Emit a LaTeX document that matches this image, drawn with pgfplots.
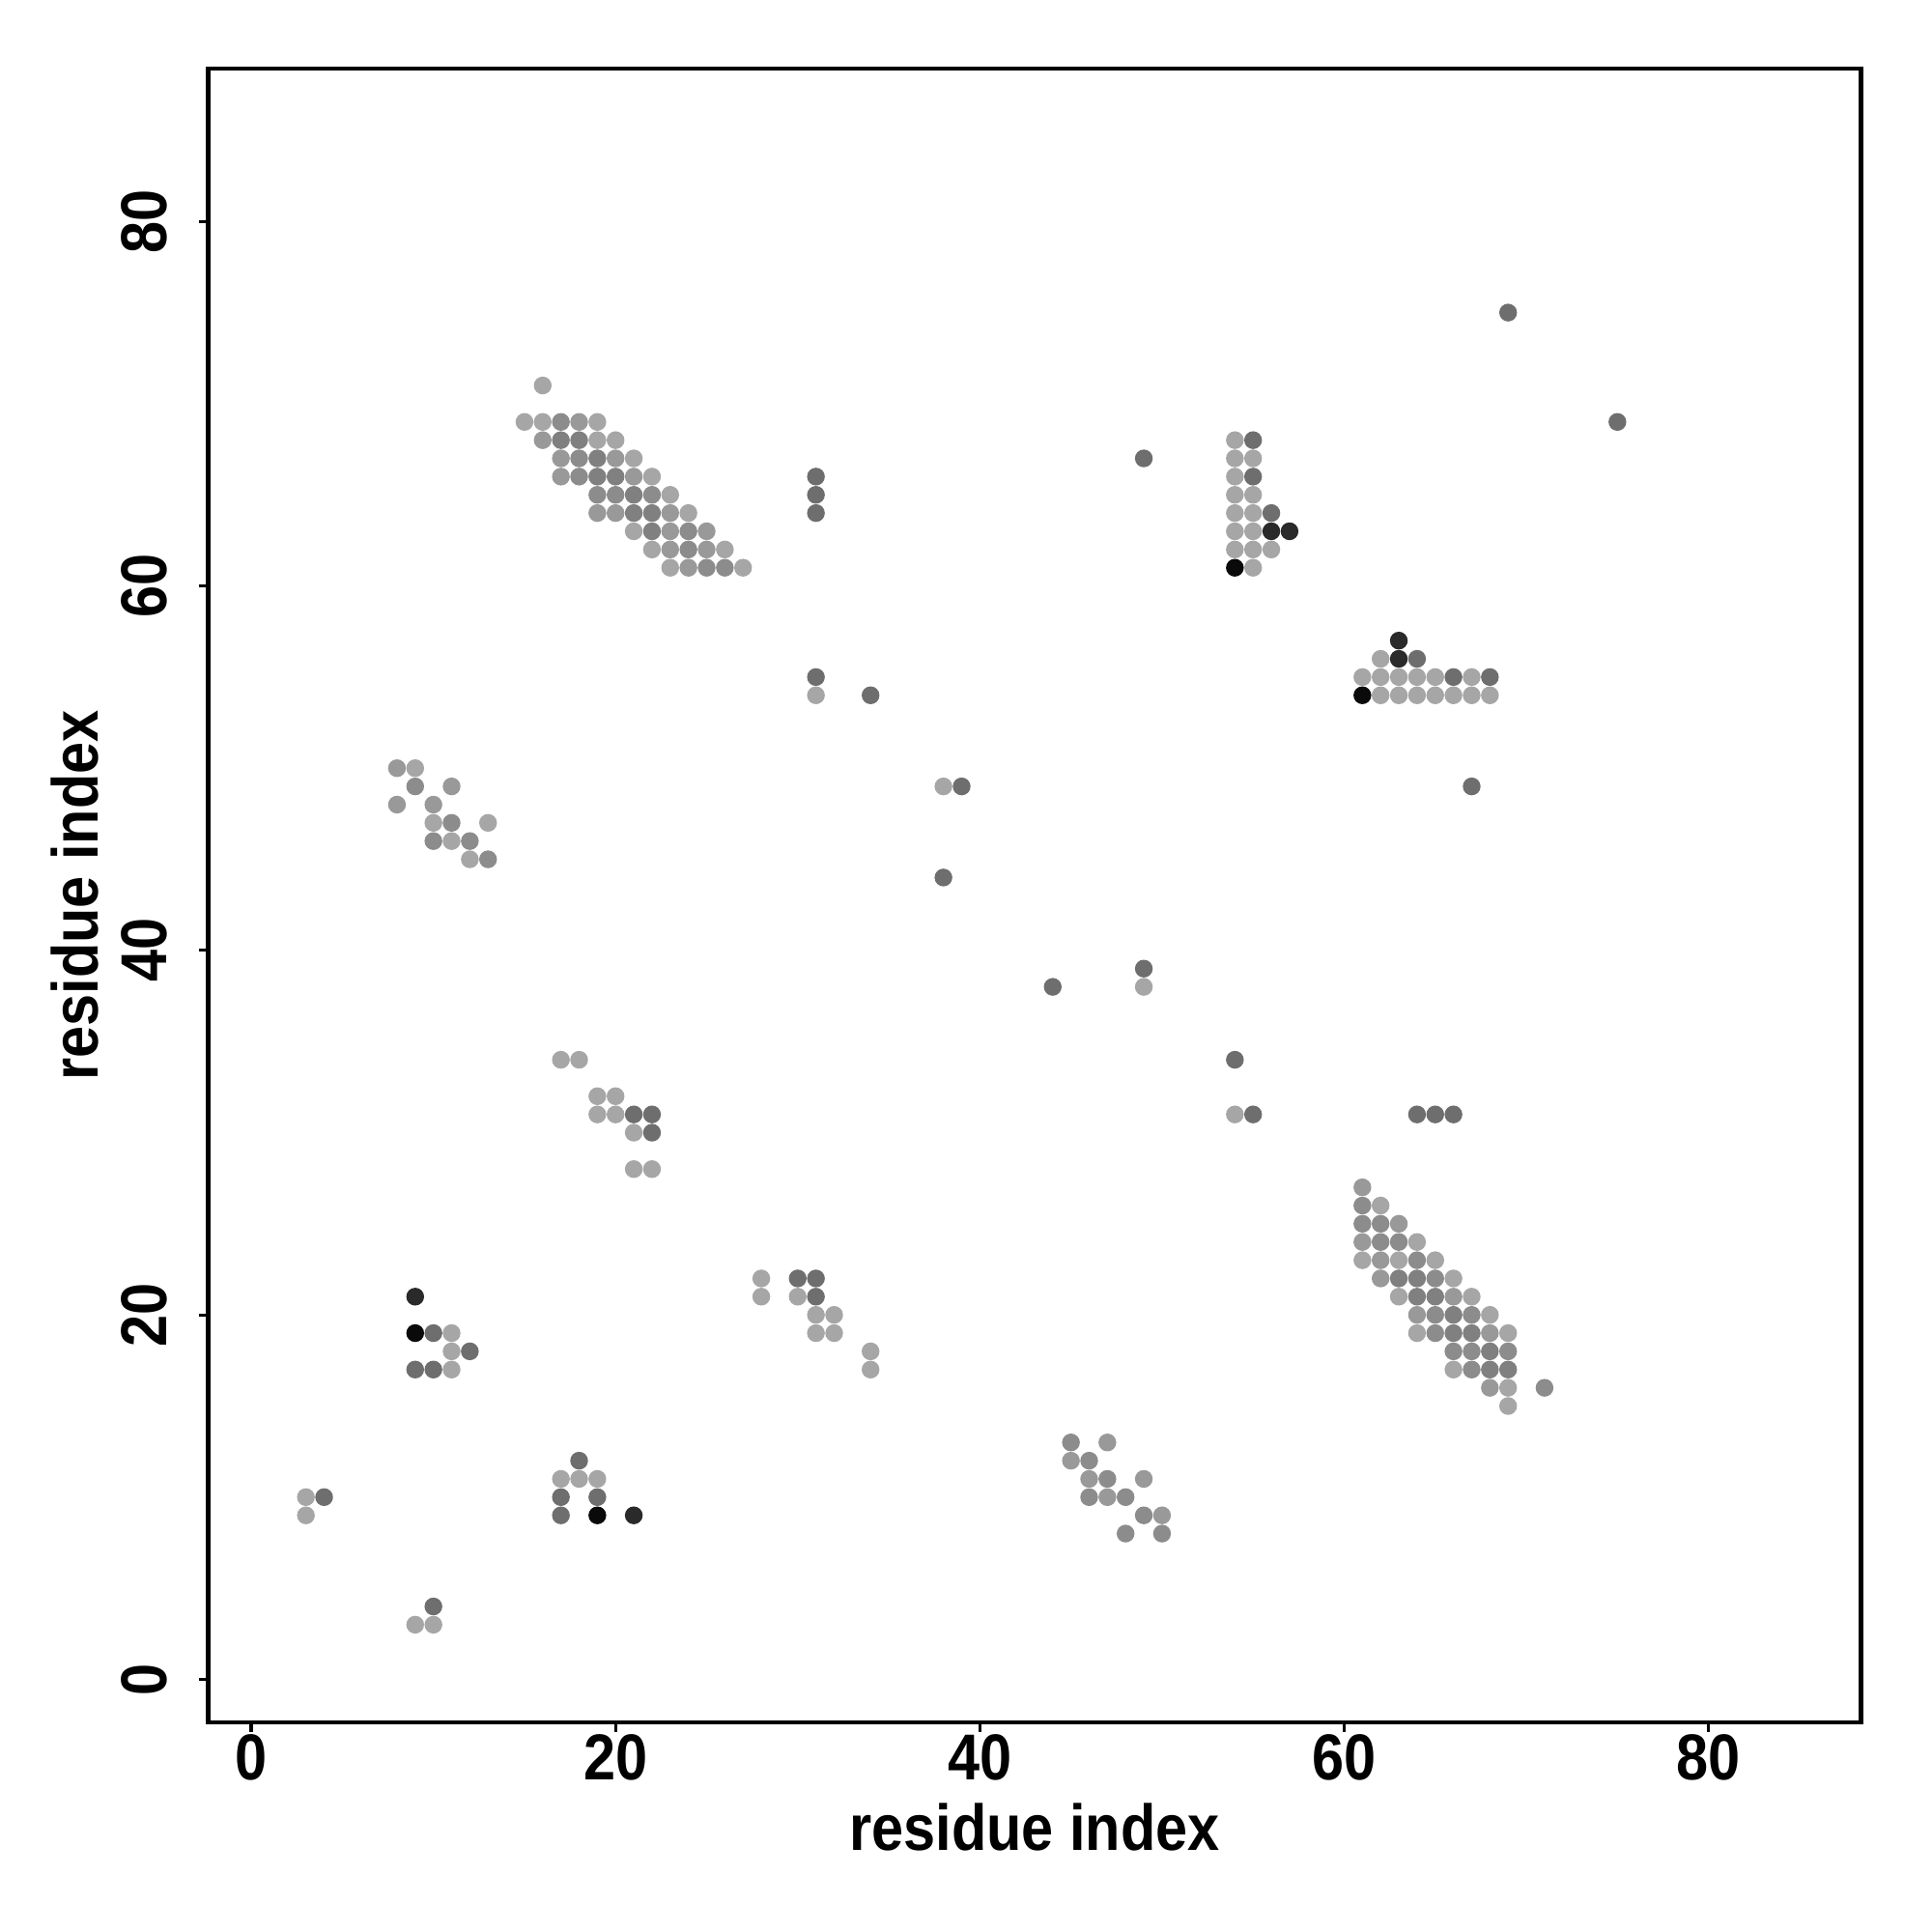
\documentclass[border=0pt]{standalone}
\usepackage{pgfplots}
\pgfplotsset{compat=1.18}
\usepackage{fontspec}
\setmainfont{Liberation Sans}[FakeStretch=0.885]
\definecolor{cL}{HTML}{A6A6A6}
\definecolor{cMa}{HTML}{999999}
\definecolor{cMb}{HTML}{8C8C8C}
\definecolor{cMc}{HTML}{808080}
\definecolor{cD}{HTML}{6E6E6E}
\definecolor{cKb}{HTML}{2A2A2A}
\definecolor{cK}{HTML}{0A0A0A}
\newcommand{\lblfont}{\bfseries\fontsize{16.8}{20}\selectfont}
\begin{document}
\begin{tikzpicture}
\useasboundingbox (-53.9pt,-54.25pt) rectangle (446.1pt,445.75pt);
\begin{axis}[
  scale only axis,
  width=427.75pt, height=428pt,
  xmin=-2.36, xmax=88.38, ymin=-2.36, ymax=88.39,
  xtick={0,20,40,60,80}, ytick={0,20,40,60,80},
  xtick pos=left, ytick pos=left,
  tick align=outside,
  major tick length=2.4pt,
  tick style={line width=0.8pt, black},
  axis line style={line width=1.15pt},
  /pgf/number format/assume math mode=true,
  tick label style={font=\lblfont},
  xticklabel style={anchor=north, inner sep=0pt},
  xticklabel shift=0.6pt,
  yticklabel style={rotate=90, anchor=base, inner sep=0pt},
  yticklabel shift=8.25pt,
  xlabel={residue index}, ylabel={residue index},
  label style={font=\lblfont},
  xlabel style={at={(axis description cs:0.5,-0.0774)}, anchor=base},
  ylabel style={at={(axis description cs:-0.0666,0.5)}, anchor=base, rotate=0},
  clip=false,
  every axis plot/.append style={only marks, mark=*, mark size=2.1pt, line width=0.4pt},
]
% light
\addplot[color=cL] coordinates {
(16,71)(15,69)(16,69)(19,69)(19,68)(20,68)(21,67)(22,66)(23,65)(24,64)(21,63)(22,62)(26,62)(23,61)(27,61)
(62,26)(64,24)(61,23)(63,23)(65,23)(66,22)(63,21)(67,21)(68,20)(64,19)(69,19)(66,17)(69,16)(69,15)
(54,68)(54,67)(55,67)(54,66)(54,65)(55,65)(54,64)(55,64)(54,63)(55,63)(54,62)(55,62)(56,62)(55,61)
(62,56)(61,55)(62,55)(63,55)(64,55)(65,55)(67,55)(62,54)(63,54)(64,54)(65,54)(66,54)(67,54)(68,54)
(9,50)(10,47)(13,47)(11,46)(12,45)
(11,19)(11,18)(11,17)
(17,34)(18,34)(19,32)(20,32)(19,31)(20,31)(21,30)(21,28)(22,28)
(28,22)(28,21)(30,21)(31,20)(32,20)(31,19)(32,19)(34,18)(34,17)
(3,10)(3,9)(9,3)(10,3)
(17,11)(18,11)(19,11)
(31,54)(38,49)(49,38)(54,31)
};
% medium 1
\addplot[color=cMa] coordinates {
(18,69)(16,68)(17,67)(20,67)(17,66)(21,66)(19,64)(20,64)(23,64)(23,63)(25,63)(23,62)(25,62)(24,61)
(61,27)(63,25)(61,24)(62,23)(62,22)(66,21)(64,20)(68,19)(68,16)
(8,50)(11,49)(8,48)(10,48)
(47,13)(45,12)(46,11)(49,11)(47,10)(50,9)
};
% medium 2
\addplot[color=cMb] coordinates {
(17,69)(18,67)(18,66)(19,65)(20,65)(22,65)(24,63)(24,62)(25,61)(26,61)
(61,26)(61,25)(62,25)(62,24)(63,24)(64,23)(65,22)(65,20)(67,20)(65,19)(66,18)(67,18)(69,18)(67,17)(71,16)
(9,49)(11,47)(10,46)(12,46)(13,45)
(45,13)(46,12)(47,11)(46,10)(48,10)(49,9)(48,8)(50,8)
};
% medium 3
\addplot[color=cMc] coordinates {
(17,68)(18,68)(19,67)(19,66)(20,66)(21,65)(21,64)(22,64)(22,63)
(63,22)(64,22)(64,21)(65,21)(66,20)(66,19)(67,19)(68,18)(68,17)(69,17)
};
% dark
\addplot[color=cD] coordinates {
(55,68)(55,66)(56,64)(64,56)(66,55)(68,55)
(10,19)(12,18)(9,17)(10,17)
(21,31)(22,31)(22,30)(30,22)(31,22)(31,21)
(4,10)(10,4)(18,12)(17,10)(19,10)(17,9)
(31,66)(31,65)(31,64)(31,55)(34,54)(39,49)(38,44)(44,38)(49,39)(49,67)
(54,34)(55,31)(64,31)(65,31)(66,31)(67,49)(69,75)(75,69)
};
% very dark
\addplot[color=cKb] coordinates {
(56,63)(57,63)(63,57)(63,56)(9,21)(21,9)
};
% black
\addplot[color=cK] coordinates {
(54,61)(61,54)(9,19)(19,9)
};
\end{axis}
\end{tikzpicture}
\end{document}
